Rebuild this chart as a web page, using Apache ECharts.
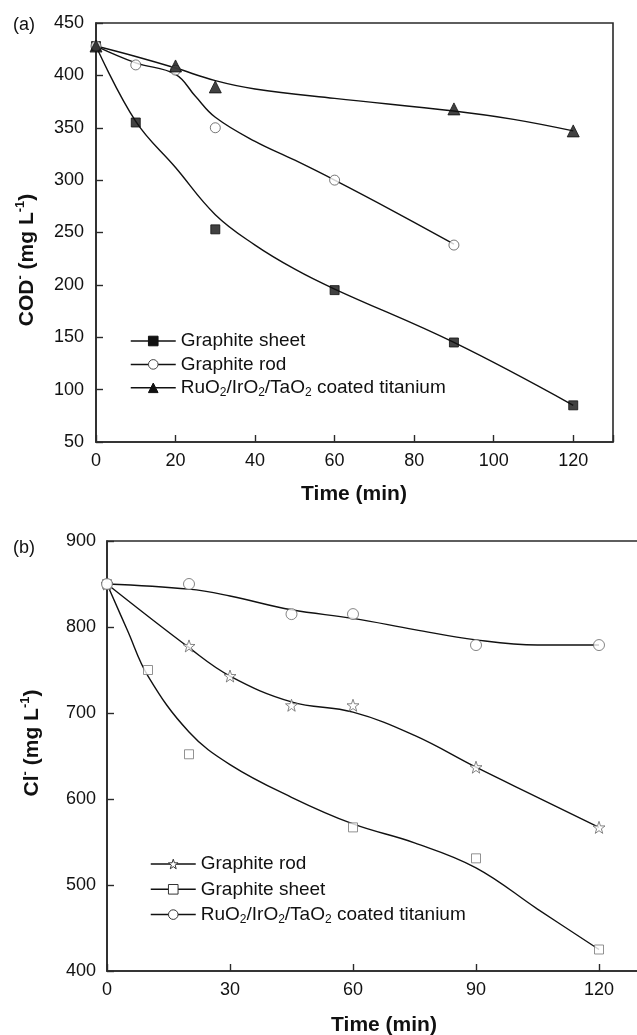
<!DOCTYPE html>
<html>
<head>
<meta charset="utf-8">
<script src="https://cdn.jsdelivr.net/npm/echarts@6/dist/echarts.min.js"></script>
<style>
  html, body { margin: 0; padding: 0; background: #fff; }
  #chartA { width: 637px; height: 520px; }
  #chartB { width: 637px; height: 515px; }
</style>
</head>
<body>
<div id="chartA"></div>
<div id="chartB"></div>
<script>
// * (a) COD vs time, (b) Cl- vs time

const FONT = '"Liberation Sans", Arial, sans-serif'
const RU_NAME = 'RuO2/IrO2/TaO2 coated titanium'

// ? (a) measured points
const codSheetX = [0, 10, 30, 60, 90, 120]
const codSheetY = [428, 355, 253, 195, 145, 85]
const codRodX = [0, 10, 20, 30, 60, 90]
const codRodY = [428, 410, 405, 350, 300, 238]
const codRuX = [0, 20, 30, 90, 120]
const codRuY = [428, 409, 389, 368, 347]
// ? (a) fitted curves
const codSheetFitX = [0, 10, 20, 30, 40, 50, 60, 90, 120]
const codSheetFitY = [428, 356, 312, 267, 238, 215, 196, 145, 85]
const codRodFitX = [0, 10, 20, 25, 30, 40, 50, 60, 75, 90]
const codRodFitY = [428, 412, 401, 380, 360, 337, 319, 300, 270, 239]
const codRuFitX = [0, 10, 20, 30, 40, 60, 90, 105, 120]
const codRuFitY = [428, 418, 407, 395, 387, 378, 366, 358, 347]
const codTicksY = [50, 450, 50]   // min, max, step
const codTicksX = [0, 130, 20]

// ? (b) measured points
const clRodX = [0, 20, 30, 45, 60, 90, 120]
const clRodY = [850, 778, 743, 709, 709, 637, 567]
const clSheetX = [0, 10, 20, 60, 90, 120]
const clSheetY = [850, 750, 652, 567, 531, 425]
const clRuX = [0, 20, 45, 60, 90, 120]
const clRuY = [850, 850, 815, 815, 779, 779]
// ? (b) fitted curves
const clRodFitX = [0, 20, 30, 45, 60, 75, 90, 105, 120]
const clRodFitY = [850, 776, 743, 713, 701, 674, 637, 602, 567]
const clSheetFitX = [0, 5, 10, 20, 30, 45, 60, 75, 90, 105, 120]
const clSheetFitY = [850, 796, 743, 678, 640, 602, 571, 549, 520, 472, 425]
const clRuFitX = [0, 20, 30, 45, 60, 75, 90, 105, 120]
const clRuFitY = [850, 844, 836, 820, 810, 797, 785, 779, 779]
const clTicksY = [400, 900, 100]
const clTicksX = [0, 130, 30]

const STAR = 'path://M0,-10L2.35,-3.24L9.51,-3.09L3.8,1.24L5.88,8.09L0,4L-5.88,8.09L-3.8,1.24L-9.51,-3.09L-2.35,-3.24Z'

const zip = (xs, ys) => xs.map((x, i) => [x, ys[i]])

const richSub = {
  t: { fontSize: 19, lineHeight: 22, fontFamily: FONT, color: '#111' },
  s: { fontSize: 12, lineHeight: 12, verticalAlign: 'bottom', fontFamily: FONT, color: '#111' }
}
const legendFormatter = name =>
  name === RU_NAME ? '{t|RuO}{s|2}{t|/IrO}{s|2}{t|/TaO}{s|2}{t| coated titanium}' : '{t|' + name + '}'

// fitted line (legend icon) + scatter points sharing the same name
function pair (name, fitX, fitY, ptX, ptY, mark) {
  return [
    {
      name: name,
      type: 'line',
      data: zip(fitX, fitY),
      smooth: 0.4,
      symbol: mark.symbol,
      showSymbol: false,
      lineStyle: { color: '#111', width: 1.4 },
      itemStyle: { color: mark.fill, borderColor: mark.stroke, borderWidth: 1 },
      silent: true,
      z: 2
    },
    {
      name: name,
      type: 'scatter',
      data: zip(ptX, ptY),
      symbol: mark.symbol,
      symbolSize: mark.size,
      itemStyle: { color: mark.fill, borderColor: mark.stroke, borderWidth: 1 },
      z: 3
    }
  ]
}

function axes (ticksX, ticksY) {
  const common = {
    type: 'value',
    axisLine: { show: true, lineStyle: { color: '#2a2a2a', width: 1.6 } },
    axisTick: { show: true, inside: true, length: 7, lineStyle: { color: '#2a2a2a', width: 1.4 } },
    splitLine: { show: false },
    axisLabel: { color: '#111', fontSize: 18, fontFamily: FONT }
  }
  return {
    xAxis: Object.assign({}, common, {
      min: ticksX[0], max: ticksX[1], interval: ticksX[2],
      axisLabel: Object.assign({}, common.axisLabel, { margin: 10, formatter: v => (v > 120 ? '' : v) })
    }),
    yAxis: Object.assign({}, common, {
      min: ticksY[0], max: ticksY[1], interval: ticksY[2],
      axisLabel: Object.assign({}, common.axisLabel, { margin: 12 })
    })
  }
}

function label (text, x, y, size, bold, rotate) {
  return {
    type: 'text',
    x: x, y: y,
    rotation: rotate ? Math.PI / 2 : 0,
    style: {
      text: text,
      x: 0, y: 0,
      align: 'center', verticalAlign: 'middle',
      fill: '#111',
      font: (bold ? 'bold ' : '') + size + 'px ' + FONT,
      rich: {
        b: { fontSize: size, fontWeight: bold ? 'bold' : 'normal', fontFamily: FONT, fill: '#111', lineHeight: 26 },
        sup: { fontSize: 13, fontWeight: 'bold', fontFamily: FONT, fill: '#111', lineHeight: 13, verticalAlign: 'top' }
      }
    }
  }
}

// ? chart (a)
const chartA = echarts.init(document.getElementById('chartA'))
const axA = axes(codTicksX, codTicksY)
const optionA = {
  animation: false,
  grid: { left: 96, top: 23, width: 517, height: 419, outerBoundsMode: 'none', show: true, borderColor: '#2a2a2a', borderWidth: 1.6 },
  xAxis: axA.xAxis,
  yAxis: axA.yAxis,
  legend: {
    orient: 'vertical',
    left: 125, top: 325,
    itemWidth: 45, itemHeight: 12, itemGap: 1.4,
    formatter: legendFormatter,
    textStyle: { rich: richSub, lineHeight: 22 },
    data: [
      { name: 'Graphite sheet', itemStyle: { color: '#111', borderColor: '#111', borderWidth: 1 }, lineStyle: { color: '#111', width: 1.5 } },
      { name: 'Graphite rod', itemStyle: { color: '#fff', borderColor: '#444', borderWidth: 1 }, lineStyle: { color: '#111', width: 1.5 } },
      { name: RU_NAME, itemStyle: { color: '#111', borderColor: '#111', borderWidth: 1 }, lineStyle: { color: '#111', width: 1.5 } }
    ]
  },
  graphic: [
    label('(a)', 24, 25, 18, false),
    label('Time (min)', 354, 494, 21, true),
    label('{b|COD}{sup|-}{b| (mg L}{sup|-1}{b|)}', 27, 260, 21, true, true)
  ],
  series: [].concat(
    pair('Graphite sheet', codSheetFitX, codSheetFitY, codSheetX, codSheetY, { symbol: 'rect', size: 9, fill: '#111', stroke: '#111' }),
    pair('Graphite rod', codRodFitX, codRodFitY, codRodX, codRodY, { symbol: 'circle', size: 10, fill: '#fff', stroke: '#555' }),
    pair(RU_NAME, codRuFitX, codRuFitY, codRuX, codRuY, { symbol: 'triangle', size: 12, fill: '#111', stroke: '#111' })
  )
}
chartA.setOption(optionA)

// ? chart (b) - plot box runs past the right edge of the page
const chartB = echarts.init(document.getElementById('chartB'))
const axB = axes(clTicksX, clTicksY)
const optionB = {
  animation: false,
  grid: { left: 107, top: 21, width: 533, height: 430, outerBoundsMode: 'none', show: true, borderColor: '#2a2a2a', borderWidth: 1.6 },
  xAxis: axB.xAxis,
  yAxis: Object.assign(axB.yAxis, { axisLabel: Object.assign({}, axB.yAxis.axisLabel, { margin: 11 }) }),
  legend: {
    orient: 'vertical',
    left: 145, top: 328,
    itemWidth: 45, itemHeight: 12, itemGap: 3.3,
    formatter: legendFormatter,
    textStyle: { rich: richSub, lineHeight: 22 },
    data: [
      { name: 'Graphite rod', itemStyle: { color: '#fff', borderColor: '#333', borderWidth: 1 }, lineStyle: { color: '#111', width: 1.5 } },
      { name: 'Graphite sheet', itemStyle: { color: '#fff', borderColor: '#333', borderWidth: 1 }, lineStyle: { color: '#111', width: 1.5 } },
      { name: RU_NAME, itemStyle: { color: '#fff', borderColor: '#333', borderWidth: 1 }, lineStyle: { color: '#111', width: 1.5 } }
    ]
  },
  graphic: [
    label('(b)', 24, 28, 18, false),
    label('Time (min)', 384, 505, 21, true),
    label('{b|Cl}{sup|-}{b| (mg L}{sup|-1}{b|)}', 32, 223, 21, true, true)
  ],
  series: [].concat(
    pair('Graphite rod', clRodFitX, clRodFitY, clRodX, clRodY, { symbol: STAR, size: 12, fill: '#fff', stroke: '#666' }),
    pair('Graphite sheet', clSheetFitX, clSheetFitY, clSheetX, clSheetY, { symbol: 'rect', size: 9, fill: '#fff', stroke: '#777' }),
    pair(RU_NAME, clRuFitX, clRuFitY, clRuX, clRuY, { symbol: 'circle', size: 11, fill: '#fff', stroke: '#666' })
  )
}
chartB.setOption(optionB)
</script>
</body>
</html>
